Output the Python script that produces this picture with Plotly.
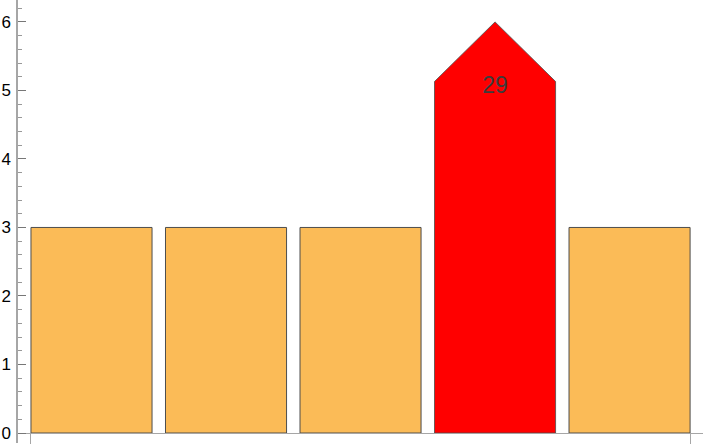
import plotly.graph_objects as go

categorias = [1, 2, 3, 4, 5]
valores = [3, 3, 3, 6, 3]
destaque = 3  # index of the highlighted (arrow) bar
rotulo = "29"

COR_BARRA = "#FBBB57"
COR_DESTAQUE = "#FF0000"
COR_BORDA = "#4d4d4d"
COR_EIXO = "#a6a6a6"

largura = 0.9
ponta = 0.87  # height of the arrow head

fig = go.Figure()

# normal bars
ys = [v if i != destaque else None for i, v in enumerate(valores)]
fig.add_trace(go.Bar(
    x=categorias, y=ys, width=largura,
    marker=dict(color=COR_BARRA, line=dict(color=COR_BORDA, width=1)),
    hoverinfo="skip"
))

# highlighted bar drawn as an arrow
c = categorias[destaque]
v = valores[destaque]
meia = largura / 2
fig.add_trace(go.Scatter(
    x=[c - meia, c - meia, c, c + meia, c + meia, c - meia],
    y=[0, v - ponta, v, v - ponta, 0, 0],
    mode="lines", fill="toself", fillcolor=COR_DESTAQUE,
    line=dict(color=COR_BORDA, width=0.8), hoverinfo="skip"
))
fig.add_trace(go.Scatter(
    x=[c], y=[v - ponta - 0.08], mode="text", text=[rotulo],
    textfont=dict(size=23, color="#3c3c3c", family="Liberation Sans"),
    hoverinfo="skip"
))

y_min, y_max = -0.146, 6.32
fig.update_layout(
    width=720, height=448,
    margin=dict(l=18, r=17, t=0, b=5),
    plot_bgcolor="white", paper_bgcolor="white",
    showlegend=False,
    font=dict(family="Liberation Sans", size=17, color="black"),
    xaxis=dict(
        range=[0.4535, 5.546], anchor="free", automargin=False,
        position=(0 - y_min) / (y_max - y_min),
        showline=True, linecolor=COR_EIXO, linewidth=1.3,
        showgrid=False, zeroline=False,
        tickvals=[categorias[0] - meia, categorias[-1] + meia],
        ticktext=["", ""], ticks="outside", ticklen=10,
        tickcolor=COR_EIXO, tickwidth=1.3,
    ),
    yaxis=dict(
        range=[y_min, y_max], automargin=False,
        showline=True, linecolor=COR_EIXO, linewidth=1.5,
        showgrid=False, zeroline=False,
        tickvals=[0, 1, 2, 3, 4, 5, 6],
        ticks="inside", ticklen=8, tickcolor="#777777", tickwidth=1,
        minor=dict(dtick=0.2, ticks="inside", ticklen=4, tickcolor="#999999", tickwidth=1),
        ticklabelstandoff=2,
    ),
)

fig.write_html("out.html", config={"displayModeBar": False},
               post_script="document.body.style.margin='0';")
